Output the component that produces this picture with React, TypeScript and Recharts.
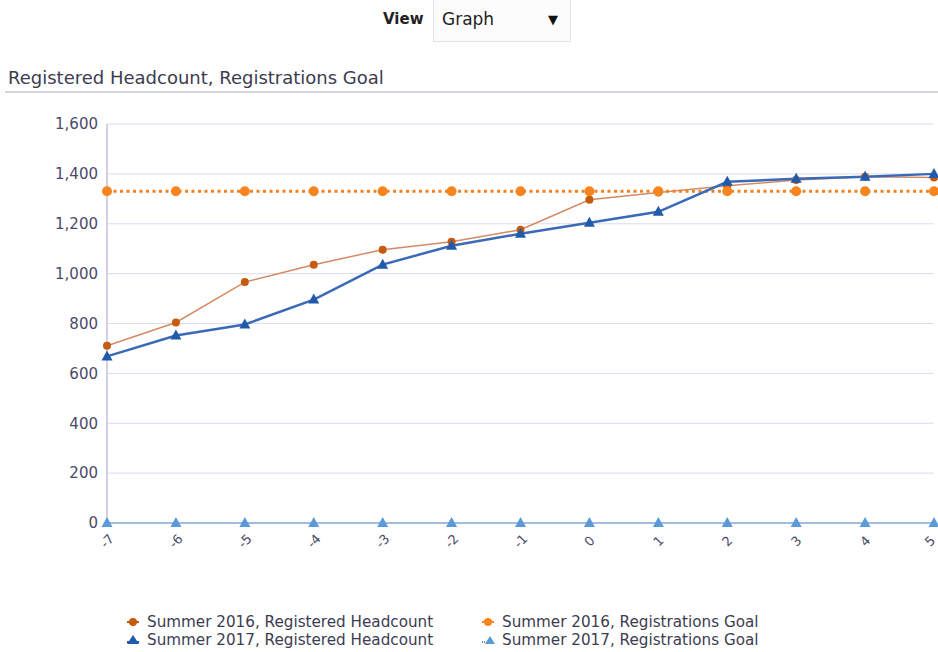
import React from "react";
import { LineChart, Line, XAxis, YAxis, CartesianGrid } from "recharts";

const weeks = ["-7", "-6", "-5", "-4", "-3", "-2", "-1", "0", "1", "2", "3", "4", "5"];
const headcount2016 = [711, 804, 966, 1036, 1096, 1128, 1176, 1296, 1325, 1352, 1375, 1388, 1385];
const headcount2017 = [668, 752, 796, 896, 1036, 1112, 1160, 1204, 1248, 1368, 1380, 1388, 1400];
const goal2016 = [1330, 1330, 1330, 1330, 1330, 1330, 1330, 1330, 1330, 1330, 1330, 1330, 1330];
const goal2017 = [0, 0, 0, 0, 0, 0, 0, 0, 0, 0, 0, 0, 0];
const yTicks = [0, 200, 400, 600, 800, 1000, 1200, 1400, 1600];

const data = weeks.map((w, i) => ({
  week: w,
  hc2016: headcount2016[i],
  hc2017: headcount2017[i],
  goal2016: goal2016[i],
  goal2017: goal2017[i],
}));

const FONT = "'DejaVu Sans', Tahoma, sans-serif";

function triangleDot(color: string, size: number) {
  return (props: any) => {
    const { cx, cy, index } = props;
    if (cx == null || cy == null) return <g key={index} />;
    const h = size;
    const w = size * 1.1;
    const pts = `${cx},${cy - h * 0.6} ${cx - w / 2},${cy + h * 0.4} ${cx + w / 2},${cy + h * 0.4}`;
    return <polygon key={index} points={pts} fill={color} stroke="none" />;
  };
}

function XTick(props: any) {
  const { x, y, payload, index } = props;
  // keep the last label inside the page edge
  const shift = index === weeks.length - 1 ? -4 : 0;
  return (
    <g transform={`translate(${x + shift},${y + 18}) rotate(-45)`}>
      <text textAnchor="middle" dy="0.35em" fontSize={13} fill="#4a4a6a" fontFamily={FONT}>
        {payload.value}
      </text>
    </g>
  );
}

function LegendItem({ icon, label }: { icon: React.ReactNode; label: string }) {
  return (
    <div style={{ display: "flex", alignItems: "center", height: 18 }}>
      <svg width={16} height={12} style={{ marginRight: 5 }}>{icon}</svg>
      <span>{label}</span>
    </div>
  );
}

export default function App() {
  return (
    <div style={{ position: "absolute", left: 0, top: 0, width: 938, height: 652, background: "#fff", fontFamily: FONT, overflow: "hidden" }}>
      <div style={{ position: "absolute", left: 383, top: 10, fontWeight: "bold", fontSize: 15, color: "#222" }}>View</div>
      <div
        style={{
          position: "absolute", left: 433, top: -2, width: 138, height: 44,
          border: "1px solid #e2e2e2", background: "#fcfcfc", boxSizing: "border-box",
        }}
      >
        <span style={{ position: "absolute", left: 8, top: 10, fontSize: 17, color: "#222" }}>Graph</span>
        <span style={{ position: "absolute", left: 114, top: 13, fontSize: 13, color: "#111" }}>▼</span>
      </div>
      <div style={{ position: "absolute", left: 8, top: 67, fontSize: 18, color: "#3c3c50" }}>
        Registered Headcount, Registrations Goal
      </div>
      <div style={{ position: "absolute", left: 5, top: 91, width: 933, height: 2, background: "#d4d4e0" }} />

      <div style={{ position: "absolute", left: 0, top: 100 }}>
        <LineChart width={938} height={552} data={data} margin={{ top: 24, right: 4, left: 0, bottom: 89 }}>
          <CartesianGrid vertical={false} stroke="#dcdcea" />
          <XAxis
            dataKey="week"
            height={40}
            tickSize={0}
            tickMargin={0}
            tick={<XTick />}
            axisLine={{ stroke: "#9db5d8" }}
            interval={0}
          />
          <YAxis
            width={107}
            domain={[0, 1600]}
            ticks={yTicks}
            tickSize={0}
            tickMargin={9}
            axisLine={{ stroke: "#a4a4c8" }}
            tick={{ fill: "#4a4a6a", fontSize: 15, fontFamily: FONT }}
            tickFormatter={(v: number) => v.toLocaleString("en-US")}
          />
          <Line
            dataKey="hc2016"
            stroke="#d48a64"
            strokeWidth={1.5}
            dot={{ r: 4, fill: "#c65a0e", stroke: "none" }}
            isAnimationActive={false}
          />
          <Line
            dataKey="goal2016"
            stroke="#f58220"
            strokeWidth={3}
            strokeDasharray="3 3.5"
            dot={{ r: 5, fill: "#f7851f", stroke: "none" }}
            isAnimationActive={false}
          />
          <Line
            dataKey="hc2017"
            stroke="#3a69b8"
            strokeWidth={2.5}
            dot={triangleDot("#1f5aab", 10)}
            isAnimationActive={false}
          />
          <Line
            dataKey="goal2017"
            stroke="#8fb4e0"
            strokeWidth={1.5}
            dot={triangleDot("#5a9ad6", 10)}
            isAnimationActive={false}
          />
        </LineChart>
      </div>

      <div style={{ position: "absolute", left: 126, top: 613, fontSize: 15.2, color: "#3c3c50" }}>
        <LegendItem
          label="Summer 2016, Registered Headcount"
          icon={<g><line x1={1} y1={6} x2={13} y2={6} stroke="#c65a0e" strokeWidth={2} /><circle cx={7} cy={6} r={4} fill="#c65a0e" /></g>}
        />
        <LegendItem
          label="Summer 2017, Registered Headcount"
          icon={<g><line x1={1} y1={8} x2={13} y2={8} stroke="#1f5aab" strokeWidth={2} /><polygon points="7,1 1,10 13,10" fill="#1f5aab" /></g>}
        />
      </div>
      <div style={{ position: "absolute", left: 481, top: 613, fontSize: 15.2, color: "#3c3c50" }}>
        <LegendItem
          label="Summer 2016, Registrations Goal"
          icon={<g><line x1={1} y1={6} x2={13} y2={6} stroke="#f58220" strokeWidth={2} /><circle cx={7} cy={6} r={4} fill="#f7851f" /></g>}
        />
        <LegendItem
          label="Summer 2017, Registrations Goal"
          icon={<g><line x1={1} y1={8} x2={4} y2={8} stroke="#5a9ad6" strokeWidth={2} strokeDasharray="1 1" /><polygon points="9,2 4,10 14,10" fill="#5a9ad6" /></g>}
        />
      </div>
    </div>
  );
}
